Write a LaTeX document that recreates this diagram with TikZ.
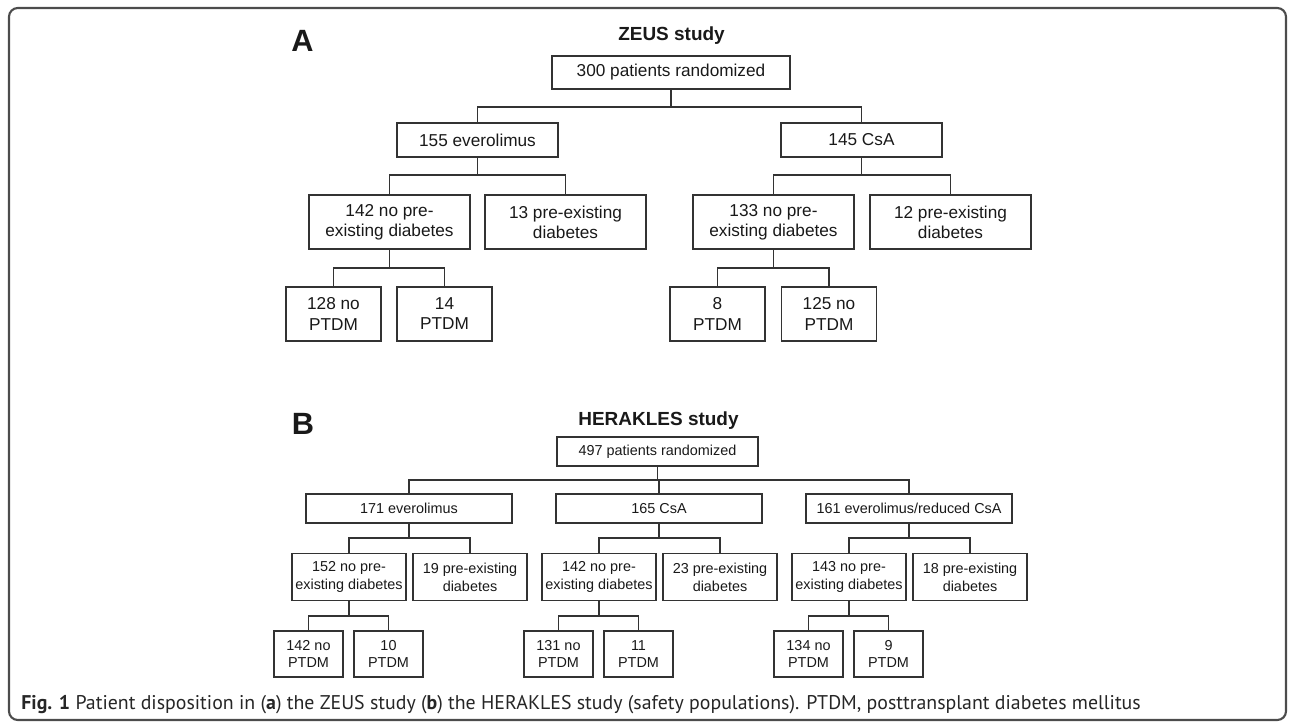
\documentclass[tikz,border=0pt]{standalone}
\usepackage{fontspec}
\setmainfont{Liberation Sans}
\newfontfamily\capfont{PT Sans}

\tikzset{
  box/.style={draw=black!80, line width=0.9pt, inner sep=0pt, align=center, text=black!90},
  ztop/.style={box, minimum width=4.76cm, minimum height=0.66cm, font=\fontsize{9.8}{11.4}\selectfont},
  zarm/.style={box, minimum width=3.22cm, minimum height=0.68cm, font=\fontsize{9.8}{11.4}\selectfont},
  zsub/.style={box, minimum width=3.22cm, minimum height=1.08cm, font=\fontsize{9.8}{11.4}\selectfont},
  zleaf/.style={box, minimum width=1.90cm, minimum height=1.08cm, font=\fontsize{9.8}{11.4}\selectfont},
  htop/.style={box, minimum width=4.02cm, minimum height=0.58cm, font=\fontsize{8.2}{10.1}\selectfont},
  harm/.style={box, minimum width=4.12cm, minimum height=0.58cm, font=\fontsize{8.2}{10.1}\selectfont},
  hsub/.style={box, minimum width=2.28cm, minimum height=0.94cm, font=\fontsize{8.2}{10.1}\selectfont},
  hleaf/.style={box, minimum width=1.38cm, minimum height=0.92cm, font=\fontsize{8.2}{10.1}\selectfont},
  link/.style={draw=black!80, line width=0.9pt},
  panel/.style={anchor=base, inner sep=0pt, text=black!90, font=\fontsize{17.5}{17.5}\selectfont\bfseries},
  study/.style={anchor=base, inner sep=0pt, text=black!90, font=\fontsize{10.8}{12}\selectfont\bfseries}
}

\begin{document}
\begin{tikzpicture}[x=0.02cm, y=-0.02cm]
  \useasboundingbox (0,0) rectangle (1290,722);
  \draw[black!70, line width=1.2pt, rounded corners=5pt] (9,8) rectangle (1286,720);

  \node[panel] (pa) at (302.5,52) {A};
  \node[study] (za) at (671.5,41) {ZEUS study};
  \node[ztop] (z0) at (671,72.5) {300 patients randomized};
  \node[zarm] (z1) at (477.5,140) {155 everolimus};
  \node[zarm] (z2) at (861.5,140) {145 CsA};
  \node[zsub] (z11) at (389.5,222) {142 no pre-\\existing diabetes};
  \node[zsub] (z12) at (565.5,222) {13 pre-existing\\diabetes};
  \node[zsub] (z21) at (773.5,222) {133 no pre-\\existing diabetes};
  \node[zsub] (z22) at (950.5,222) {12 pre-existing\\diabetes};
  \node[zleaf] (z111) at (333.5,314) {128 no\\PTDM};
  \node[zleaf] (z112) at (444.5,314) {14\\PTDM};
  \node[zleaf] (z211) at (717.5,314) {8\\PTDM};
  \node[zleaf] (z212) at (829,314) {125 no\\PTDM};
  \foreach \p/\c in {z0/z1, z0/z2}
    \draw[link] (\p.south) -- ++(0,17) -| (\c.north);
  \foreach \p/\c in {z1/z11, z1/z12, z2/z21, z2/z22}
    \draw[link] (\p.south) -- ++(0,17) -| (\c.north);
  \foreach \p/\c in {z11/z111, z11/z112, z21/z211, z21/z212}
    \draw[link] (\p.south) -- ++(0,18) -| (\c.north);

  \node[panel] (pb) at (303,434) {B};
  \node[study] (hb) at (658.5,425) {HERAKLES study};
  \node[htop] (h0) at (657.5,451.5) {497 patients randomized};
  \node[harm] (h1) at (409,508.5) {171 everolimus};
  \node[harm] (h2) at (659,508.5) {165 CsA};
  \node[harm] (h3) at (909,508.5) {161 everolimus/reduced CsA};
  \node[hsub] (h11) at (349,577) {152 no pre-\\existing diabetes};
  \node[hsub] (h12) at (470,577) {19 pre-existing\\diabetes};
  \node[hsub] (h21) at (599,577) {142 no pre-\\existing diabetes};
  \node[hsub] (h22) at (720,577) {23 pre-existing\\diabetes};
  \node[hsub] (h31) at (849,577) {143 no pre-\\existing diabetes};
  \node[hsub] (h32) at (970,577) {18 pre-existing\\diabetes};
  \node[hleaf] (h111) at (308.5,654) {142 no\\PTDM};
  \node[hleaf] (h112) at (388.5,654) {10\\PTDM};
  \node[hleaf] (h211) at (558.5,654) {131 no\\PTDM};
  \node[hleaf] (h212) at (638.5,654) {11\\PTDM};
  \node[hleaf] (h311) at (808.5,654) {134 no\\PTDM};
  \node[hleaf] (h312) at (888.5,654) {9\\PTDM};
  \foreach \p/\c in {h0/h1, h0/h2, h0/h3}
    \draw[link] (\p.south) -- ++(0,13) -| (\c.north);
  \foreach \p/\c in {h1/h11, h1/h12, h2/h21, h2/h22, h3/h31, h3/h32}
    \draw[link] (\p.south) -- ++(0,14) -| (\c.north);
  \foreach \p/\c in {h11/h111, h11/h112, h21/h211, h21/h212, h31/h311, h31/h312}
    \draw[link] (\p.south) -- ++(0,15) -| (\c.north);

  \node[anchor=base west, inner sep=0pt, text=black!85, font=\capfont\fontsize{11.3}{13}\selectfont] (cap) at (21,709)
    {\textbf{Fig. 1} Patient disposition in (\textbf{a}) the ZEUS study (\textbf{b}) the HERAKLES study (safety populations). PTDM, posttransplant diabetes mellitus};
\end{tikzpicture}
\end{document}
